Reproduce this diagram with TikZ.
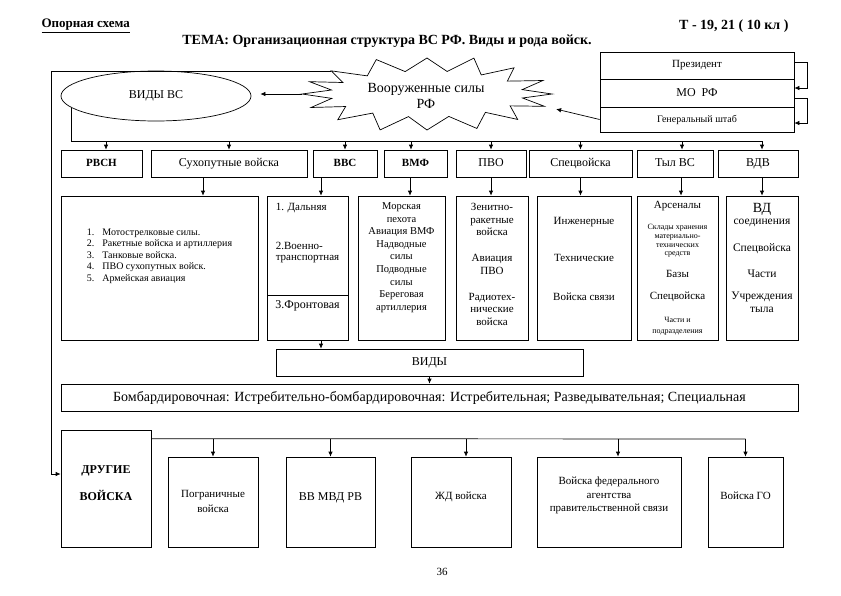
\documentclass[tikz,border=0pt]{standalone}
\usepackage{fontspec}
\setmainfont{Liberation Serif}
\usetikzlibrary{arrows.meta,shapes.geometric}
\newcommand{\fsz}[2]{\fontsize{#1}{#2}\selectfont}
\tikzset{
    box/.style={draw, line width=0.7pt, inner sep=2pt, align=center},
    rodbox/.style={box, minimum height=27pt, text height=8pt, text depth=2.5pt},
    ln/.style={line width=0.7pt},
    arr/.style={line width=0.7pt, -{Latex[length=5pt,width=4.5pt]}},
}
\begin{document}
\begin{tikzpicture}[x=1pt,y=-1pt]
        \useasboundingbox (0,0) rectangle (841,595);

        \node [anchor=west, font=\fsz{13}{15}\bfseries] (opora) at (38,26) {\underline{Опорная схема}};
        \node [font=\fsz{14}{16}\bfseries] (tema) at (387,41) {ТЕМА: Организационная структура ВС РФ. Виды и рода войск.};
        \node [anchor=east, font=\fsz{14}{16}\bfseries] (klass) at (792,26) {Т - 19, 21 ( 10 кл )};

        \node [box, minimum width=194pt, minimum height=27pt, font=\fsz{11}{13}] (prez) at (697,65.5) {Президент};
        \node [box, minimum width=194pt, minimum height=28pt, font=\fsz{12}{14}] (mo) at (697,93) {МО\ \ РФ};
        \node [box, minimum width=194pt, minimum height=25pt, font=\fsz{10}{12}] (gsh) at (697,119.5) {Генеральный штаб};
        \draw [arr] ([yshift=3.5pt]prez.east) -- ++(13,0) |- ([yshift=5pt]mo.east);
        \draw [arr] ([yshift=-5pt]mo.east) -- ++(13,0) |- ([yshift=-3.5pt]gsh.east);

        \coordinate (zc) at (427,94);
        \coordinate (zl) at ([shift={(180:125 and 36)}]zc);
        \coordinate (ztl) at ([shift={(220:125 and 36)}]zc);
        \coordinate (zr) at ([shift={(20:125 and 36)}]zc);
        \draw [ln, shift={(427,94)}] (0:125 and 36) -- (10:97 and 23) -- (20:125 and 36) -- (31:97 and 23)
            -- (42:122 and 38) -- (53:97 and 23) -- (65:118 and 38) -- (77:97 and 23) -- (90:120 and 36)
            -- (101:97 and 23) -- (113:120 and 39) -- (124:97 and 23) -- (136:124 and 37) -- (147:97 and 23)
            -- (158:125 and 36) -- (169:97 and 23) -- (180:125 and 36) -- (190:97 and 23) -- (200:125 and 36)
            -- (210:97 and 23) -- (220:125 and 36) -- (232:97 and 23) -- (245:120 and 38) -- (257:97 and 23)
            -- (270:118 and 36) -- (282:97 and 23) -- (293:120 and 39) -- (304:97 and 23) -- (315:123 and 37)
            -- (326:97 and 23) -- (338:125 and 36) -- (349:97 and 23) -- cycle;
        \node [align=center, font=\fsz{14}{16}] (vsrf) at (426,96) {Вооруженные силы\\РФ};

        \node [draw, ellipse, ln, minimum width=190pt, minimum height=50pt, font=\fsz{12}{14}] (vidyvs) at (156,96) {ВИДЫ ВС};
        \draw [arr, shorten >=9pt] (zl) -- (zl -| vidyvs.east);
        \draw [arr, shorten >=12pt] (gsh.west) -- (zr);

        \node [rodbox, minimum width=81pt, font=\fsz{11}{13}\bfseries] (rvsn) at (101.5,163.5) {РВСН};
        \node [rodbox, minimum width=156pt, font=\fsz{12}{14}] (sv) at (229,163.5) {Сухопутные войска};
        \node [rodbox, minimum width=64pt, font=\fsz{11}{13}\bfseries] (vvs) at (345,163.5) {ВВС};
        \node [rodbox, minimum width=63pt, font=\fsz{11}{13}\bfseries] (vmf) at (415.5,163.5) {ВМФ};
        \node [rodbox, minimum width=70pt, font=\fsz{12}{14}] (pvo) at (491,163.5) {ПВО};
        \node [rodbox, minimum width=103pt, font=\fsz{12}{14}] (spec) at (580.5,163.5) {Спецвойска};
        \node [rodbox, minimum width=76pt, font=\fsz{12}{14}] (tyl) at (675,163.5) {Тыл ВС};
        \node [rodbox, minimum width=80pt, font=\fsz{12}{14}] (vdv) at (758,163.5) {ВДВ};

        \coordinate (bus) at (0,141);
        \draw [ln] (vidyvs.188) |- ([xshift=4pt]vdv.north |- bus);
        \draw [arr] ([xshift=4.5pt]rvsn.north |- bus) -- ([xshift=4.5pt]rvsn.north);
        \draw [arr] (sv.north |- bus) -- (sv.north);
        \draw [arr] (vvs.north |- bus) -- (vvs.north);
        \draw [arr] ([xshift=-4.5pt]vmf.north |- bus) -- ([xshift=-4.5pt]vmf.north);
        \draw [arr] (pvo.north |- bus) -- (pvo.north);
        \draw [arr] (spec.north |- bus) -- (spec.north);
        \draw [arr] ([xshift=7pt]tyl.north |- bus) -- ([xshift=7pt]tyl.north);
        \draw [arr] ([xshift=4pt]vdv.north |- bus) -- ([xshift=4pt]vdv.north);

        \node [box, minimum width=197pt, minimum height=144pt, align=left, font=\fsz{10}{11.5}, text depth=26pt] (svbox) at (159.5,268)
            {1.\hspace{8pt}Мотострелковые силы.\\2.\hspace{8pt}Ракетные войска и артиллерия\\3.\hspace{8pt}Танковые войска.\\4.\hspace{8pt}ПВО сухопутных войск.\\5.\hspace{8pt}Армейская авиация};
        \node [box, minimum width=81pt, minimum height=99pt, align=left, font=\fsz{11}{13}, text depth=27pt] (vvsup) at (307.5,245.5)
            {1. Дальняя\\[26pt]2.Военно-\\[-2pt]транспортная};
        \node [box, minimum width=81pt, minimum height=45pt, font=\fsz{12}{14}, text depth=25pt] (vvslow) at (307.5,317.5) {3.Фронтовая};
        \node [box, minimum width=87pt, minimum height=144pt, font=\fsz{10.5}{12.6}, text depth=23pt] (vmfbox) at (401.5,268)
            {Морская\\пехота\\Авиация ВМФ\\Надводные\\силы\\Подводные\\силы\\Береговая\\артиллерия};
        \node [box, minimum width=72pt, minimum height=144pt, font=\fsz{11}{12.5}, text depth=7.5pt] (pvobox) at (492,268)
            {Зенитно-\\ракетные\\войска\\[13.5pt]Авиация\\ПВО\\[13.5pt]Радиотех-\\нические\\войска};
        \node [box, minimum width=94pt, minimum height=144pt, font=\fsz{11}{13}, text depth=18pt] (specbox) at (584,268)
            {Инженерные\\[24pt]Технические\\[26pt]Войска связи};
        \node [box, minimum width=81pt, minimum height=144pt, font=\fsz{11}{13}] (tylbox) at (677.5,268)
            {Арсеналы\\[8.3pt]{\fsz{8}{9}Склады хранения}\\[-4.3pt]{\fsz{8}{9}материально-}\\[-4.3pt]{\fsz{8}{9}технических}\\[-4.3pt]{\fsz{8}{9}средств}\\[9.2pt]Базы\\[9pt]Спецвойска\\[9.3pt]{\fsz{8}{9}Части и}\\[-2pt]{\fsz{8}{9}подразделения}};
        \node [box, minimum width=72pt, minimum height=144pt, font=\fsz{11.5}{13}, text depth=20pt] (vdvbox) at (762,268)
            {{\fsz{14}{16}ВД}\\[-1.5pt]соединения\\[14pt]Спецвойска\\[13pt]Части\\[9pt]Учреждения\\тыла};
        \draw [arr] ([xshift=-26pt]sv.south) -- ([xshift=43.5pt]svbox.north);
        \draw [arr] ([xshift=-24pt]vvs.south) -- ([xshift=13.5pt]vvsup.north);
        \draw [arr] ([xshift=-5.5pt]vmf.south) -- ([xshift=8.5pt]vmfbox.north);
        \draw [arr] (pvo.south) -- (pvo.south |- pvobox.north);
        \draw [arr] (spec.south) -- (spec.south |- specbox.north);
        \draw [arr] ([xshift=6pt]tyl.south) -- ([xshift=3.5pt]tylbox.north);
        \draw [arr] (vdvbox.north |- vdv.south) -- (vdvbox.north);

        \node [box, minimum width=307pt, minimum height=27pt, font=\fsz{12}{14}] (vidy) at (429.5,362.5) {ВИДЫ};
        \node [box, minimum width=737pt, minimum height=27pt, font=\fsz{14}{16}] (vidylist) at (429.5,397.5)
            {Бомбардировочная: Истребительно-бомбардировочная: Истребительная; Разведывательная; Специальная};
        \draw [arr] ([xshift=13.5pt]vvslow.south) -- ([xshift=13.5pt]vvslow.south |- vidy.north);
        \draw [arr] (vidy.south) -- (vidylist.north);

        \node [box, minimum width=90pt, minimum height=117pt, font=\fsz{12}{14}\bfseries, text depth=10pt] (drugie) at (106,488.5) {ДРУГИЕ\\[13pt]ВОЙСКА};
        \node [box, minimum width=90pt, minimum height=90pt, font=\fsz{11}{14}, text depth=2pt] (pogran) at (213,502) {Пограничные\\[1pt]войска};
        \node [box, minimum width=89pt, minimum height=90pt, font=\fsz{12}{14}, text depth=10pt] (vvmvd) at (330.5,502) {ВВ МВД РВ};
        \node [box, minimum width=100pt, minimum height=90pt, font=\fsz{11}{13}, text depth=12pt] (zhd) at (461,502) {ЖД войска};
        \node [box, minimum width=144pt, minimum height=90pt, font=\fsz{11}{13.5}, text depth=15pt] (fapsi) at (609,502)
            {Войска федерального\\агентства\\правительственной связи};
        \node [box, minimum width=75pt, minimum height=90pt, font=\fsz{11}{13}, text depth=12pt] (go) at (745.5,502) {Войска ГО};

        \draw [arr] (ztl) -| ([xshift=-9pt,yshift=14.5pt]drugie.west) -- ([yshift=14.5pt]drugie.west);

        \coordinate (bbus) at (0,439);
        \draw [ln] ([yshift=-9pt]drugie.north east) -- (go.north |- bbus);
        \draw [arr] (pogran.north |- bbus) -- (pogran.north);
        \draw [arr] (vvmvd.north |- bbus) -- (vvmvd.north);
        \draw [arr] ([xshift=5pt]zhd.north |- bbus) -- ([xshift=5pt]zhd.north);
        \draw [arr] ([xshift=9pt]fapsi.north |- bbus) -- ([xshift=9pt]fapsi.north);
        \draw [arr] (go.north |- bbus) -- (go.north);

        \node [font=\fsz{11}{13}] (pnum) at (442,572) {36};

    \end{tikzpicture}
\end{document}
